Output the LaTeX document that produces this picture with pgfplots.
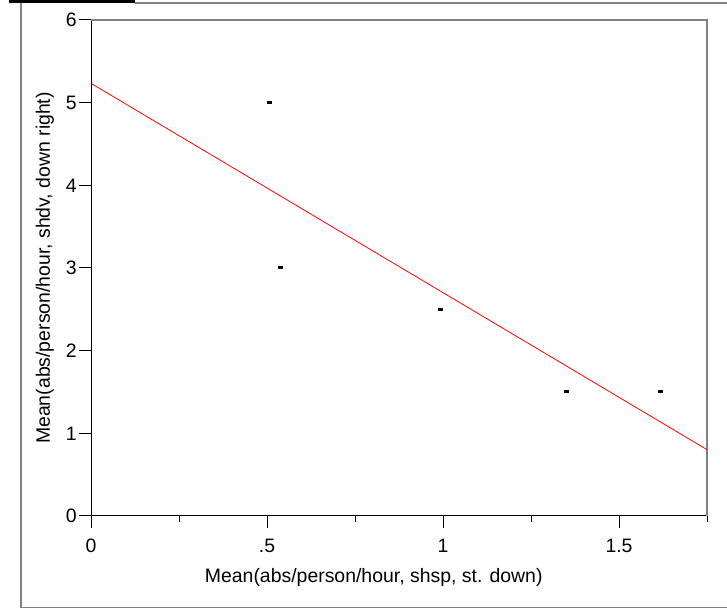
\documentclass[border=0pt]{standalone}
\usepackage{pgfplots}
\pgfplotsset{compat=1.18}
\usepackage{fontspec}
\setmainfont{Liberation Sans}
\definecolor{framegray}{RGB}{128,128,128}
\definecolor{fitred}{RGB}{255,0,0}
\newcommand{\chartfont}{\fontsize{19.5}{23}\selectfont}
\begin{document}
\begin{tikzpicture}[x=1bp,y=1bp]
\useasboundingbox (0,0) rectangle (727,609);
% outer frame
\fill[black] (9,606) rectangle (135,609);
\draw[framegray, line width=1.5bp] (135,606) -- (727,606);
\draw[framegray, line width=1.5bp] (21,606) -- (21,1.5) -- (727,1.5);
\begin{axis}[
  at={(91bp,93bp)}, anchor=south west,
  scale only axis, width=616bp, height=496bp,
  xmin=0, xmax=1.75, ymin=0, ymax=6,
  axis x line*=bottom, axis y line*=left,
  axis line style={black, line width=1bp, -},
  xtick={0,0.5,1,1.5}, xticklabels={0,.5,1,1.5},
  minor xtick={0.25,0.75,1.25,1.75},
  ytick={0,1,2,3,4,5,6},
  tick align=outside,
  major tick length=12bp, minor tick length=6bp,
  tick style={black, line width=1bp},
  /pgf/number format/assume math mode=true,
  tick label style={font=\chartfont},
  label style={font=\chartfont},
  xticklabel style={inner sep=0pt, anchor=north, yshift=-11bp},
  yticklabel style={inner sep=0pt, anchor=east, xshift=-2bp},
  xlabel={Mean(abs/person/hour, shsp, st. down)},
  ylabel={Mean(abs/person/hour, shdv, down right)},
  xlabel style={at={(axis description cs:0.459,-0.135)}, anchor=base, inner sep=0pt},
  ylabel style={at={(axis description cs:-0.0666,0.5)}, anchor=base, inner sep=0pt},
  clip=false,
]
% grey top and right border of the plot frame
\draw[framegray, line width=1.5bp] (axis cs:0,6) -- (axis cs:1.75,6) -- (axis cs:1.75,0);
% least-squares fit
\addplot[fitred, line width=0.8bp] coordinates {(0,5.234) (1.75,0.803)};
% observations
\addplot[only marks, mark=-, mark size=2.5bp, mark options={black, line width=3bp}]
  coordinates {(0.506,5) (0.537,3) (0.994,2.5) (1.35,1.5) (1.617,1.5)};
\end{axis}
\end{tikzpicture}
\end{document}
